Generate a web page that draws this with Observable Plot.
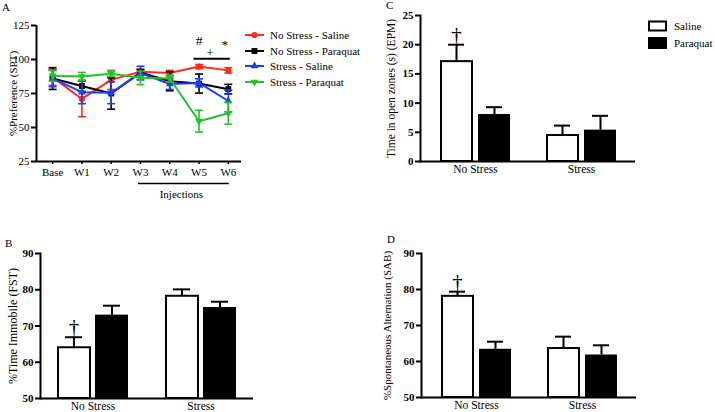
<!DOCTYPE html>
<html><head><meta charset="utf-8">
<script src="https://cdn.jsdelivr.net/npm/d3@7"></script>
<script src="https://cdn.jsdelivr.net/npm/@observablehq/plot@0.6"></script>
<style>
body{margin:0;background:#fff;font-family:"Liberation Serif",serif;color:#000;}
#root{position:relative;width:715px;height:412px;overflow:hidden;background:#fff;}
.panel{position:absolute;}
.panel svg{overflow:visible;}
.letter{position:absolute;font-size:11px;line-height:11px;}
.bold [aria-label="y-axis tick label"]{font-weight:bold;}
.leg{position:absolute;font-size:11px;line-height:12px;white-space:nowrap;}
.leg .row{display:flex;align-items:center;}
.leg svg{display:block;margin-right:6px;}
</style></head><body><div id="root"></div>
<script>
// ---------- Panel A data (SPT) ----------
const weeks = ["Base","W1","W2","W3","W4","W5","W6"];
const seriesNames = ["No Stress - Saline","No Stress - Paraquat","Stress - Saline","Stress - Paraquat"];
const seriesColors = ["#ff2b1c","#000000","#1a3dff","#22c424"];
const nsSalineMean   = [87, 71, 85, 91, 90, 94.8, 92];
const nsSalineSem    = [6, 13, 7, 2, 2, 1.5, 2];
const nsParaquatMean = [86, 80.5, 75, 90.5, 84, 82.3, 78.2];
const nsParaquatSem  = [8, 4, 11.5, 2, 7, 7, 3.5];
const sSalineMean    = [86, 76, 75.5, 90, 82, 82.8, 69.5];
const sSalineSem     = [6, 8.5, 8, 5, 4, 3, 8];
const sParaquatMean  = [88, 87.5, 89.5, 86.5, 86, 54.6, 60.5];
const sParaquatSem   = [4, 3, 2, 5, 2.5, 8, 8];
const yTicksA = [25, 50, 75, 100, 125];
const injections = {from: "W3", to: "W6", label: "Injections"};
const sigLabels = ["#", "+", "*"];
const sigX = [5, 5.38, 5.88];
const sigY = [110.8, 101.8, 108];
const sigLine = {from: "W5", to: "W6", y: 100.5};

// ---------- Bar panels data ----------
const groups = ["No Stress", "Stress"];
const treatments = ["Saline", "Paraquat"];
const fstSaline = [64, 78.2], fstSalineSem = [2.9, 1.9];
const fstParaquat = [73, 75.1], fstParaquatSem = [2.6, 1.6];
const epmSaline = [17.1, 4.45], epmSalineSem = [2.9, 1.7];
const epmParaquat = [8.05, 5.37], epmParaquatSem = [1.25, 2.45];
const sabSaline = [78.1, 63.6], sabSalineSem = [1.3, 3.3];
const sabParaquat = [63.4, 61.8], sabParaquatSem = [2.1, 2.7];
const daggerGroup = "No Stress", daggerTreatment = "Saline";

const FONT = "Liberation Serif";
const root = document.getElementById("root");
function place(node, left, top, cls) {
  const d = document.createElement("div");
  d.className = "panel" + (cls ? " " + cls : "");
  d.style.left = left + "px"; d.style.top = top + "px";
  d.appendChild(node); root.appendChild(d); return d;
}
function letter(t, left, top) {
  const d = document.createElement("div"); d.className = "letter"; d.textContent = t;
  d.style.left = left + "px"; d.style.top = top + "px"; root.appendChild(d);
}

const capSymbol = {draw(ctx, size) { const r = Math.sqrt(size / Math.PI); ctx.moveTo(-r, 0); ctx.lineTo(r, 0); }};
const triDown = {draw(ctx, size) {
  const y = -Math.sqrt(size / (Math.sqrt(3) * 3));
  ctx.moveTo(0, -2 * y); ctx.lineTo(-Math.sqrt(3) * y, y); ctx.lineTo(Math.sqrt(3) * y, y); ctx.closePath();
}};
const seriesSymbols = [d3.symbolCircle, d3.symbolSquare, d3.symbolTriangle, triDown];
const seriesR = [3.1, 3.3, 2.9, 2.9];

// ---------- Panel A ----------
const means = [nsSalineMean, nsParaquatMean, sSalineMean, sParaquatMean];
const sems = [nsSalineSem, nsParaquatSem, sSalineSem, sParaquatSem];
const seriesMarks = [];
seriesNames.forEach((name, s) => {
  const rows = weeks.map((w, i) => ({i, week: w, mean: means[s][i], lo: means[s][i] - sems[s][i], hi: means[s][i] + sems[s][i]}));
  const c = seriesColors[s];
  seriesMarks.push(
    Plot.ruleX(rows, {x: "i", y1: "lo", y2: "hi", stroke: c, strokeWidth: 1.6}),
    Plot.dot(rows, {x: "i", y: "lo", symbol: capSymbol, r: 4, stroke: c, strokeWidth: 1.6, fill: "none"}),
    Plot.dot(rows, {x: "i", y: "hi", symbol: capSymbol, r: 4, stroke: c, strokeWidth: 1.6, fill: "none"}),
    Plot.line(rows, {x: "i", y: "mean", stroke: c, strokeWidth: 2}),
    Plot.dot(rows, {x: "i", y: "mean", symbol: seriesSymbols[s], r: seriesR[s], fill: c, stroke: "none"})
  );
});
const xMinA = -0.55, xMaxA = 6.45;
const plotA = Plot.plot({
  width: 245, height: 206, marginLeft: 36, marginRight: 4, marginTop: 25, marginBottom: 45,
  style: {fontFamily: FONT, fontSize: "11px", color: "#000", background: "transparent", overflow: "visible"},
  x: {type: "linear", domain: [xMinA, xMaxA], label: null},
  y: {domain: [25, 125], label: null},
  marks: [
    Plot.axisY({ticks: yTicksA, tickSize: 5, tickPadding: 2, strokeWidth: 2, label: null}),
    Plot.axisX({ticks: d3.range(weeks.length), tickFormat: i => weeks[i], tickSize: 3, tickPadding: 4, strokeWidth: 1.5, label: null}),
    Plot.ruleY([25], {strokeWidth: 2}),
    Plot.ruleX([xMinA], {strokeWidth: 2}),
    Plot.text(["%Preference (SPT)"], {frameAnchor: "left", rotate: -90, dx: -23, textAnchor: "middle", lineAnchor: "middle", fontSize: 11, fill: "#000"}),
    ...seriesMarks,
    Plot.ruleY([25], {x1: weeks.indexOf(injections.from), x2: weeks.indexOf(injections.to), dy: 22, strokeWidth: 1.5, insetLeft: -2, insetRight: -1}),
    Plot.text([injections.label], {x: () => (weeks.indexOf(injections.from) + weeks.indexOf(injections.to)) / 2, y: () => 25, dy: 33, fontSize: 11, dx: -3, fill: "#000"}),
    Plot.ruleY([sigLine.y], {x1: weeks.indexOf(sigLine.from), x2: weeks.indexOf(sigLine.to), strokeWidth: 2, insetLeft: -5, insetRight: -2}),
    Plot.text(sigLabels, {x: (d, i) => sigX[i], y: (d, i) => sigY[i], lineAnchor: "bottom", fontSize: 13.5, fill: "#000"})
  ]
});
place(plotA, 0, 0);

// Legend A
const legA = document.createElement("div"); legA.className = "leg";
legA.style.left = "245px"; legA.style.top = "27px";
seriesNames.forEach((name, s) => {
  const row = document.createElement("div"); row.className = "row"; row.style.height = "15.7px";
  const svg = d3.create("svg").attr("width", 19).attr("height", 10);
  svg.append("line").attr("x1", 0).attr("x2", 19).attr("y1", 5).attr("y2", 5).attr("stroke", seriesColors[s]).attr("stroke-width", 2);
  svg.append("path").attr("transform", "translate(9.5,5)").attr("d", d3.symbol(seriesSymbols[s], Math.PI * seriesR[s] * seriesR[s])()).attr("fill", seriesColors[s]);
  row.appendChild(svg.node());
  const t = document.createElement("span"); t.textContent = name; row.appendChild(t);
  legA.appendChild(row);
});
root.appendChild(legA);

// ---------- Bar panels ----------
function barPanel(o) {
  const rows = [];
  groups.forEach((g, i) => {
    rows.push({group: g, treatment: treatments[0], value: o.saline[i], hi: o.saline[i] + o.salineSem[i]});
    rows.push({group: g, treatment: treatments[1], value: o.paraquat[i], hi: o.paraquat[i] + o.paraquatSem[i]});
  });
  const sal = rows.filter(d => d.treatment === treatments[0]);
  const par = rows.filter(d => d.treatment === treatments[1]);
  const dag = rows.filter(d => d.group === daggerGroup && d.treatment === daggerTreatment);
  const y0 = o.yDomain[0];
  return Plot.plot({
    width: o.width, height: o.height, marginLeft: o.marginLeft, marginRight: o.marginRight,
    marginTop: o.marginTop, marginBottom: o.marginBottom,
    style: {fontFamily: FONT, fontSize: "11px", color: "#000", background: "transparent", overflow: "visible"},
    x: {domain: groups, paddingInner: 0.34, paddingOuter: o.po, label: null},
    y: {domain: o.yDomain, label: null},
    marks: [
      Plot.axisY({ticks: o.yTicks, tickSize: 5, tickPadding: 2, strokeWidth: 2, label: null, fontSize: 11}),
      Plot.axisX({tickSize: 0, tickPadding: o.xPad, label: null, fontSize: 11.5}),
      Plot.text([o.title], {frameAnchor: "left", rotate: -90, dx: o.titleDx, textAnchor: "middle", lineAnchor: "middle", fontSize: o.titleSize, fill: "#000"}),
      Plot.ruleX(sal, {x: "group", y1: "value", y2: "hi", dx: -19, strokeWidth: 2}),
      Plot.tickY(sal, {x: "group", y: "hi", insetLeft: 8, insetRight: 46, strokeWidth: 2}),
      Plot.ruleX(par, {x: "group", y1: "value", y2: "hi", dx: 19, strokeWidth: 2}),
      Plot.tickY(par, {x: "group", y: "hi", insetLeft: 46, insetRight: 8, strokeWidth: 2}),
      Plot.barY(sal, {x: "group", y1: () => y0, y2: "value", insetRight: 38, insetLeft: 1, fill: "#fff", stroke: "#000", strokeWidth: 2}),
      Plot.barY(par, {x: "group", y1: () => y0, y2: "value", insetLeft: 38, fill: "#000"}),
      Plot.text(dag, {x: "group", y: "hi", text: () => "\u2020", dx: -19, dy: -3, lineAnchor: "bottom", fontSize: 21, fill: "#000"}),
      Plot.ruleY([y0], {strokeWidth: 2}),
      Plot.frame({anchor: "left", strokeWidth: 2})
    ]
  });
}

place(barPanel({saline: fstSaline, salineSem: fstSalineSem, paraquat: fstParaquat, paraquatSem: fstParaquatSem,
  yDomain: [50, 90], yTicks: [50, 60, 70, 80, 90], title: "%Time Immobile (FST)", titleSize: 12, titleDx: -27,
  width: 258, height: 182, marginLeft: 40, marginRight: 5, marginTop: 23, marginBottom: 14, po: 0.15, xPad: 3}), 0, 230, "bold");

place(barPanel({saline: epmSaline, salineSem: epmSalineSem, paraquat: epmParaquat, paraquatSem: epmParaquatSem,
  yDomain: [0, 25], yTicks: [0, 5, 10, 15, 20, 25], title: "Time in open zones (s) (EPM)", titleSize: 11.5, titleDx: -29,
  width: 260, height: 181, marginLeft: 40, marginRight: 5, marginTop: 15, marginBottom: 20, po: 0.175, xPad: 3}), 380, 0, "bold");

place(barPanel({saline: sabSaline, salineSem: sabSalineSem, paraquat: sabParaquat, paraquatSem: sabParaquatSem,
  yDomain: [50, 90], yTicks: [50, 60, 70, 80, 90], title: "%Spontaneous Alternation (SAB)", titleSize: 11, titleDx: -34,
  width: 261, height: 182, marginLeft: 41, marginRight: 5, marginTop: 23, marginBottom: 15, po: 0.175, xPad: 3}), 380, 230, "bold");

// Legend C/D
const legB = document.createElement("div"); legB.className = "leg";
legB.style.left = "648px"; legB.style.top = "17px";
treatments.forEach((t, i) => {
  const row = document.createElement("div"); row.className = "row"; row.style.height = "17px";
  const svg = d3.create("svg").attr("width", 20).attr("height", 12);
  if (i === 0) svg.append("rect").attr("x", 1).attr("y", 1.5).attr("width", 17).attr("height", 9).attr("fill", "#fff").attr("stroke", "#000").attr("stroke-width", 2);
  else svg.append("rect").attr("x", 0).attr("y", 0).attr("width", 19).attr("height", 12).attr("fill", "#000");
  row.appendChild(svg.node());
  const s = document.createElement("span"); s.textContent = t; row.appendChild(s);
  legB.appendChild(row);
});
root.appendChild(legB);

letter("A", 2, 2);
letter("B", 5, 238);
letter("C", 386, 0);
letter("D", 387, 234);
</script></body></html>
